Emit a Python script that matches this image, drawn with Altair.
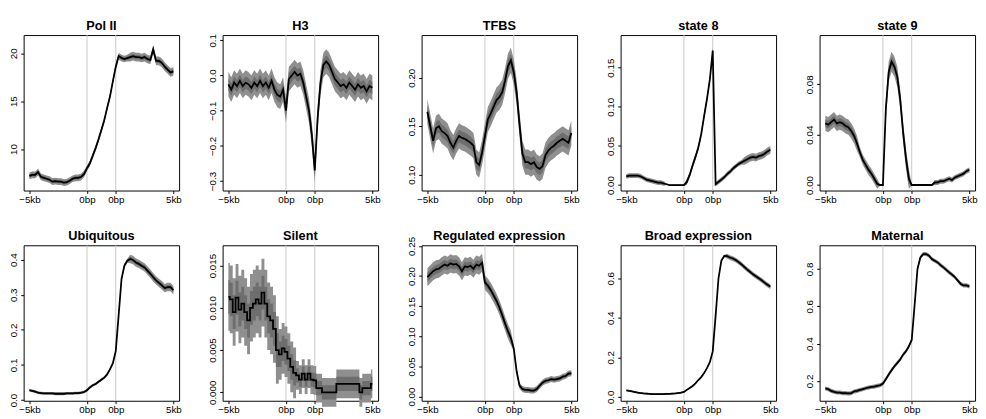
import altair as alt
import pandas as pd

# shared positional grid: 0 = -5kb, 100 = first 0bp, 150 = second 0bp, 250 = 5kb
X = list(range(0, 251, 5))
TICK_POS = [0, 100, 150, 250]
TICK_LABELS = ["\u22125kb", "0bp", "0bp", "5kb"]

TITLES = ["Pol II", "H3", "TFBS", "state 8", "state 9",
          "Ubiquitous", "Silent", "Regulated expression", "Broad expression", "Maternal"]

POL2 = [7.2, 7.3, 7.3, 7.6, 7.1, 7.0, 6.9, 6.8, 6.6, 6.65,
        6.6, 6.6, 6.5, 6.55, 6.7, 6.9, 7.0, 7.0, 7.1, 7.4,
        8.0, 8.5, 9.3, 10.1, 11.0, 12.0, 13.0, 14.3, 15.5, 17.1,
        18.6, 19.7, 19.5, 19.4, 19.5, 19.6, 19.7, 19.6, 19.6, 19.5,
        19.6, 19.4, 19.3, 20.4, 19.2, 19.2, 19.0, 18.6, 18.3, 18.0, 18.1]
H3 = [-0.025, -0.04, -0.02, -0.03, -0.015, -0.03, -0.02, -0.025, -0.035, -0.02,
      -0.03, -0.015, -0.03, -0.02, -0.035, -0.015, -0.04, -0.055, -0.06, -0.04,
      -0.1, -0.01, 0.0, 0.01, 0.0, 0.005, -0.02, -0.06, -0.1, -0.17,
      -0.27, -0.12, -0.02, 0.03, 0.04, 0.03, 0.01, -0.01, -0.02, -0.03,
      -0.025, -0.035, -0.02, -0.03, -0.04, -0.025, -0.035, -0.03, -0.045, -0.03, -0.035]
TFBS = [0.165, 0.15, 0.135, 0.148, 0.15, 0.145, 0.143, 0.14, 0.133, 0.128,
        0.135, 0.14, 0.138, 0.137, 0.135, 0.133, 0.13, 0.113, 0.11, 0.123,
        0.14, 0.157, 0.163, 0.17, 0.177, 0.18, 0.185, 0.197, 0.212, 0.218,
        0.206, 0.185, 0.152, 0.122, 0.113, 0.113, 0.111, 0.113, 0.108, 0.106,
        0.109, 0.12, 0.125, 0.128, 0.13, 0.133, 0.135, 0.137, 0.135, 0.133, 0.143]
STATE8 = [0.011, 0.012, 0.012, 0.012, 0.012, 0.011, 0.009, 0.007, 0.006, 0.005,
          0.004, 0.003, 0.003, 0.002, 0.001, 0.0, 0.0, 0.0, 0.0, 0.0,
          0.0, 0.004, 0.013, 0.025, 0.036, 0.048, 0.065, 0.088, 0.11, 0.135,
          0.172, 0.001, 0.004, 0.007, 0.01, 0.014, 0.017, 0.021, 0.024, 0.027,
          0.029, 0.031, 0.033, 0.035, 0.036, 0.035, 0.037, 0.038, 0.04, 0.043, 0.045]
STATE9 = [0.049, 0.048, 0.05, 0.052, 0.049, 0.05, 0.049, 0.047, 0.046, 0.043,
          0.039, 0.033, 0.026, 0.02, 0.016, 0.012, 0.009, 0.005, 0.001, 0.0,
          0.0, 0.06, 0.09, 0.098, 0.094, 0.086, 0.068, 0.042, 0.021, 0.005,
          0.0, 0.0, 0.0, 0.0, 0.0, 0.0, 0.0, 0.0, 0.002, 0.002,
          0.003, 0.003, 0.004, 0.005, 0.004, 0.006, 0.007, 0.008, 0.009, 0.011, 0.012]
UBIQ = [0.028, 0.026, 0.024, 0.021, 0.02, 0.019, 0.019, 0.019, 0.019, 0.018,
        0.018, 0.018, 0.018, 0.019, 0.019, 0.019, 0.02, 0.02, 0.021, 0.023,
        0.028, 0.036, 0.042, 0.046, 0.052, 0.058, 0.064, 0.073, 0.088, 0.105,
        0.14, 0.242, 0.345, 0.383, 0.397, 0.402, 0.399, 0.392, 0.388, 0.383,
        0.378, 0.369, 0.36, 0.35, 0.341, 0.334, 0.327, 0.319, 0.322, 0.322, 0.313]
SILENT = [0.0113, 0.011, 0.0095, 0.0112, 0.0098, 0.0105, 0.0095, 0.0085, 0.01, 0.0105,
          0.011, 0.0105, 0.0118, 0.0105, 0.009, 0.0085, 0.0075, 0.005, 0.0045, 0.0052,
          0.0048, 0.004, 0.003, 0.0023, 0.002, 0.0015, 0.0022, 0.0015, 0.0022, 0.0015,
          0.0014, 0.0005, 0.0005, 0.0, 0.0, 0.0, 0.0, 0.0, 0.001, 0.001,
          0.001, 0.001, 0.001, 0.001, 0.001, 0.001, 0.0, 0.0005, 0.0005, 0.0005, 0.001]
REGUL = [0.198, 0.203, 0.208, 0.211, 0.212, 0.216, 0.219, 0.217, 0.221, 0.219,
         0.22, 0.216, 0.208, 0.216, 0.215, 0.217, 0.212, 0.219, 0.217, 0.222,
         0.189, 0.184, 0.177, 0.168, 0.159, 0.148, 0.135, 0.121, 0.108, 0.097,
         0.08, 0.042, 0.018, 0.0125, 0.011, 0.011, 0.01, 0.01, 0.0125, 0.018,
         0.023, 0.026, 0.027, 0.029, 0.028, 0.029, 0.03, 0.033, 0.034, 0.038, 0.0385]
BROAD = [0.033, 0.03, 0.027, 0.024, 0.021, 0.019, 0.017, 0.016, 0.015, 0.014,
         0.014, 0.014, 0.014, 0.014, 0.015, 0.015, 0.016, 0.017, 0.019, 0.021,
         0.025, 0.035, 0.045, 0.055, 0.068, 0.085, 0.1, 0.12, 0.145, 0.175,
         0.23, 0.41, 0.6, 0.69, 0.713, 0.712, 0.705, 0.7, 0.692, 0.682,
         0.67, 0.657, 0.644, 0.632, 0.62, 0.61, 0.6, 0.59, 0.578, 0.567, 0.558]
MATERNAL = [0.16, 0.156, 0.147, 0.142, 0.138, 0.138, 0.135, 0.135, 0.133, 0.135,
            0.144, 0.147, 0.152, 0.156, 0.161, 0.165, 0.168, 0.17, 0.174, 0.177,
            0.186, 0.209, 0.235, 0.258, 0.279, 0.297, 0.315, 0.341, 0.359, 0.385,
            0.42, 0.606, 0.8, 0.862, 0.88, 0.88, 0.871, 0.853, 0.844, 0.835,
            0.821, 0.809, 0.795, 0.782, 0.77, 0.756, 0.738, 0.72, 0.712, 0.712, 0.707]

# half-widths of the confidence bands
HW_POL2 = [0.35] * 20 + [0.3] * 10 + [0.35] * 5 + [0.45] * 16
HW_H3 = [0.035] * 51
HW_TFBS = [0.013] * 51
HW_STATE8 = [0.003] * 14 + [0.0008] * 7 + [0.004] * 10 + [0.003] * 10 + [0.005] * 10
HW_STATE9 = [0.006] * 12 + [0.004] * 7 + [0.0005] * 2 + [0.008] * 9 + [0.0005] * 8 + [0.002] * 13
HW_UBIQ = [0.004] * 30 + [0.006] * 5 + [0.012] * 16
HW_SILENT = [0.004] * 18 + [0.003] * 6 + [0.0017] * 27
HW_REGUL = [0.015] * 20 + [0.012] * 10 + [0.005] * 21
HW_BROAD = [0.004] * 30 + [0.006] * 5 + [0.012] * 16
HW_MATERNAL = [0.011] * 51

DOMAINS = [[5.67, 21.9], [-0.327, 0.115], [0.0838, 0.244], [-0.007, 0.1917], [-0.0044, 0.1192],
           [-0.002, 0.441], [-0.001, 0.0174], [-0.007, 0.251], [-0.02, 0.767], [0.094, 0.927]]
YTICKS = [[10, 15, 20], [-0.3, -0.2, -0.1, 0.0, 0.1], [0.10, 0.15, 0.20],
          [0.0, 0.05, 0.10, 0.15], [0.0, 0.04, 0.08],
          [0.0, 0.1, 0.2, 0.3, 0.4], [0.0, 0.005, 0.010, 0.015],
          [0.0, 0.05, 0.10, 0.15, 0.20, 0.25], [0.0, 0.2, 0.4, 0.6], [0.2, 0.4, 0.6, 0.8]]
FORMATS = ["d", ".1f", ".2f", ".2f", ".2f", ".1f", ".3f", ".2f", ".1f", ".1f"]
SERIES = [POL2, H3, TFBS, STATE8, STATE9, UBIQ, SILENT, REGUL, BROAD, MATERNAL]
HWS = [HW_POL2, HW_H3, HW_TFBS, HW_STATE8, HW_STATE9, HW_UBIQ, HW_SILENT, HW_REGUL, HW_BROAD, HW_MATERNAL]

W = 159
H = 159
FONT = "Liberation Sans"

label_expr = " : ".join(
    f"datum.value == {p} ? '{l}'" for p, l in zip(TICK_POS[:-1], TICK_LABELS[:-1])
) + f" : '{TICK_LABELS[-1]}'"


def panel(i):
    vals, hw = SERIES[i], HWS[i]
    df = pd.DataFrame({
        "x": X, "y": vals,
        "lo": [v - h for v, h in zip(vals, hw)],
        "hi": [v + h for v, h in zip(vals, hw)],
        "lo2": [v - h * 0.5 for v, h in zip(vals, hw)],
        "hi2": [v + h * 0.5 for v, h in zip(vals, hw)],
    })
    interp = "step" if TITLES[i] == "Silent" else "linear"
    xscale = alt.Scale(domain=[-10, 260], nice=False, zero=False)
    xaxis = alt.Axis(values=TICK_POS, labelExpr=label_expr, title=None, labelFlush=False,
                     labelOverlap=False)
    yscale = alt.Scale(domain=DOMAINS[i], nice=False, zero=False)
    yaxis = alt.Axis(values=YTICKS[i], format=FORMATS[i], title=None, labelAngle=270,
                     labelAlign="center", labelBaseline="bottom", labelFlush=False,
                     labelOverlap=False)
    xenc = alt.X("x:Q", scale=xscale, axis=xaxis)
    base = alt.Chart(df)
    vlines = alt.Chart(pd.DataFrame({"x": [TICK_POS[1], TICK_POS[2]]})).mark_rule(
        color="#c8c8c8", strokeWidth=1).encode(x=xenc)
    outer = base.mark_area(color="#8f8f8f", interpolate=interp).encode(
        x=xenc, y=alt.Y("lo:Q", scale=yscale, axis=yaxis), y2="hi:Q")
    inner = base.mark_area(color="#6e6e6e", interpolate=interp).encode(
        x=xenc, y=alt.Y("lo2:Q", scale=yscale, axis=yaxis), y2="hi2:Q")
    line = base.mark_line(color="black", strokeWidth=1.8, interpolate=interp).encode(
        x=xenc, y=alt.Y("y:Q", scale=yscale, axis=yaxis))
    title = alt.Chart(pd.DataFrame({"t": [TITLES[i]]})).mark_text(
        font=FONT, fontSize=13, fontWeight="bold", color="black",
        align="center", baseline="alphabetic", clip=False
    ).encode(x=alt.value(W / 2), y=alt.value(-5), text="t:N")
    return alt.layer(vlines, outer, inner, line, title).properties(width=W, height=H)


chart = alt.concat(*[panel(i) for i in range(10)], columns=5,
                   spacing={"row": 56, "column": 44.5}, bounds="flush").properties(
    padding={"left": 0, "top": 7, "right": 0, "bottom": 0}
).configure_view(
    stroke="black", strokeWidth=1
).configure_axis(
    domain=False, grid=False, tickColor="black", tickSize=3, tickWidth=1,
    labelFont=FONT, labelFontSize=10, labelColor="black"
).configure_axisX(labelPadding=1).configure_axisY(labelPadding=2)

chart.save("out.html", embed_options={"renderer": "svg", "actions": False})
